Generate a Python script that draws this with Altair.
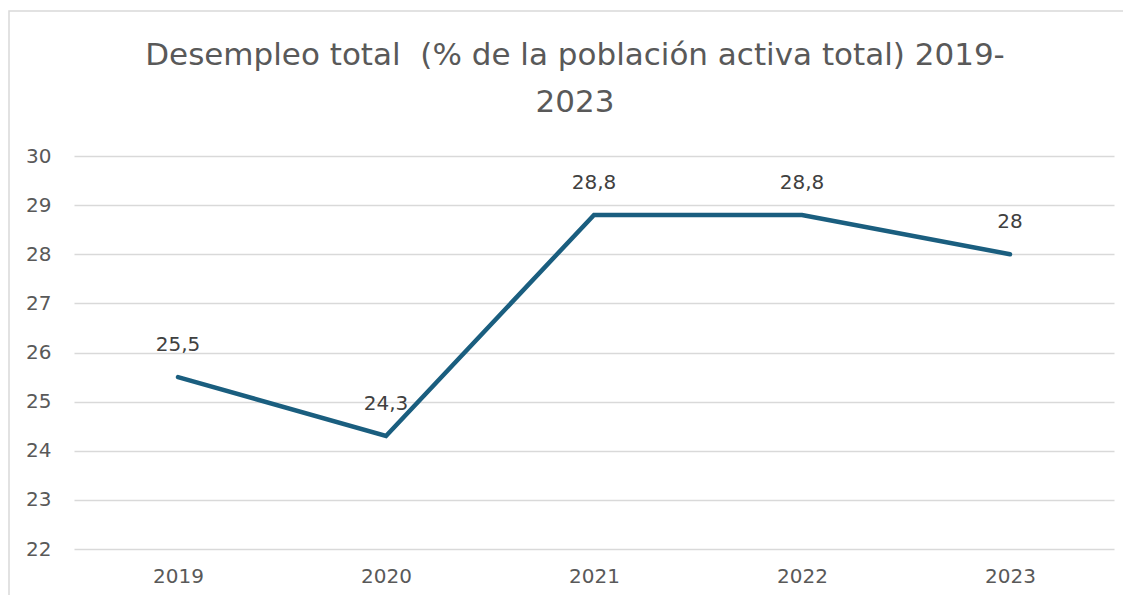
import altair as alt
import pandas as pd

years = ["2019", "2020", "2021", "2022", "2023"]
values = [25.5, 24.3, 28.8, 28.8, 28.0]
labels = ["25,5", "24,3", "28,8", "28,8", "28"]
y_ticks = [22, 23, 24, 25, 26, 27, 28, 29, 30]
title_text = "Desempleo total \u00a0(% de la población activa total) 2019-\n2023"

df = pd.DataFrame({"year": years, "value": values, "label": labels})

FONT = "DejaVu Sans"

x = alt.X("year:N", sort=years, title=None,
          scale=alt.Scale(type="point", padding=0.5),
          axis=alt.Axis(labelAngle=0, labelFont=FONT, labelFontSize=20,
                        labelColor="#595959", labelPadding=17, ticks=False, domain=False,
                        grid=False))
y = alt.Y("value:Q", title=None,
          scale=alt.Scale(domain=[22, 30], nice=False, zero=False),
          axis=alt.Axis(values=y_ticks, labelFont=FONT, labelFontSize=20,
                        labelColor="#595959", labelPadding=23, ticks=False, domain=False,
                        gridColor="#d9d9d9", gridWidth=1.5))

one = pd.DataFrame({"t": [title_text]})

border = alt.Chart(one).mark_rect(
    fillOpacity=0, stroke="#d9d9d9", strokeWidth=1.5
).encode(x=alt.value(-65), x2=alt.value(1200), y=alt.value(-145), y2=alt.value(500))

title = alt.Chart(one).mark_text(
    font=FONT, fontSize=31, color="#595959", align="center",
    baseline="alphabetic", lineBreak="\n", lineHeight=47
).encode(x=alt.value(501), y=alt.value(-91), text="t:N")

line = alt.Chart(df).mark_line(color="#1a5e7f", strokeWidth=4.5, strokeCap="round",
                               strokeJoin="miter").encode(x=x, y=y)

text = alt.Chart(df).mark_text(font=FONT, fontSize=20, color="#404040",
                               dy=-32, baseline="middle").encode(
    x=alt.X("year:N", sort=years, scale=alt.Scale(type="point", padding=0.5)),
    y="value:Q", text="label:N")

chart = alt.layer(border, title, line, text).properties(
    width=1040, height=393,
    background="white",
    autosize=alt.AutoSizeParams(type="none"),
    padding={"left": 66, "top": 148, "right": 9, "bottom": 46},
).configure_view(strokeWidth=0, stroke="transparent")

chart.save("out.html", embed_options={"renderer": "svg", "actions": False})
